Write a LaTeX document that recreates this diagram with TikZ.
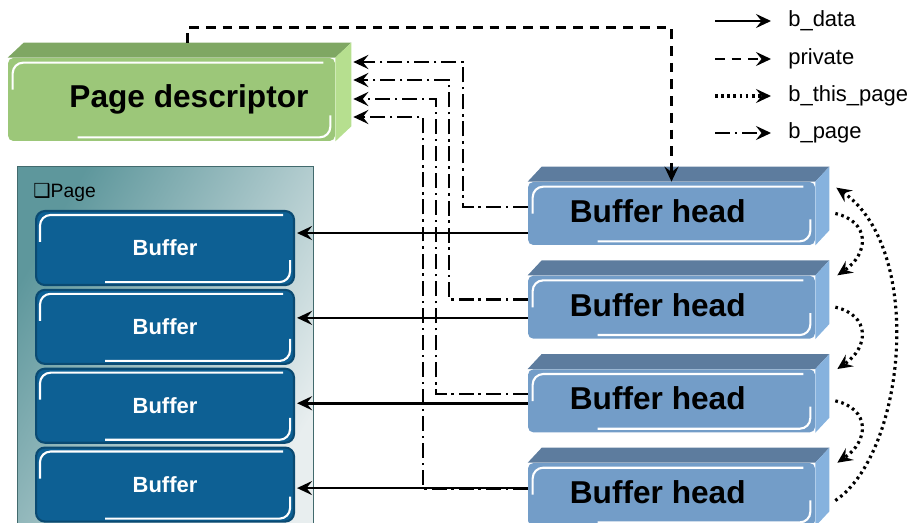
\documentclass[tikz,border=0pt]{standalone}
\usepackage{fontspec}
\setmainfont{Liberation Sans}
\newfontfamily\dingfont{DejaVu Sans}
\usetikzlibrary{arrows.meta,positioning}

\definecolor{pdfront}{HTML}{9CC779}
\definecolor{pdtopc}{HTML}{7FA763}
\definecolor{pdside}{HTML}{B6DF8F}
\definecolor{bhfront}{HTML}{739DC8}
\definecolor{bhtopc}{HTML}{5D7C9E}
\definecolor{bhside}{HTML}{86B2DE}
\definecolor{buffill}{HTML}{0D6094}
\definecolor{bufedge}{HTML}{0A4A72}
\definecolor{pagedark}{HTML}{5E979C}
\definecolor{pagelight}{HTML}{E8EEEF}

% top and side faces of a slab: node, top colour, side colour, dx, dy
\newcommand{\slab}[5]{%
  \fill[#2] (#1.north west) -- ++(#4,-#5) -- ([shift={(#4,-#5)}]#1.north east) -- (#1.north east) -- cycle;
  \fill[#3] (#1.north east) -- ++(#4,-#5) -- ([shift={(#4,-#5)}]#1.south east) -- (#1.south east) -- cycle;
}
% white glossy streaks inside a box
\newcommand{\gloss}[1]{%
  \draw[glossline] ([shift={(5,32)}]#1.north west) -- ([shift={(5,5)}]#1.north west) -- ([shift={(-12,5)}]#1.north east);
  \draw[glossline] ([shift={(-5,-26)}]#1.south east) -- ([shift={(-5,-4)}]#1.south east) -- ([shift={(70,-4)}]#1.south west);
}

\begin{document}
\begin{tikzpicture}[x=0.02cm, y=-0.02cm,
    tip/.style={-{Stealth[length=3mm,width=2.8mm,inset=1.1mm]}},
    bdata/.style={tip, line width=1.5pt},
    private/.style={tip, line width=1.5pt, dash pattern=on 5.5pt off 4pt},
    bthis/.style={tip, line width=1.8pt, dash pattern=on 1.5pt off 2pt},
    bpage/.style={tip, line width=1.5pt, dash pattern=on 8.5pt off 2.8pt on 1.3pt off 2.8pt},
    pagebox/.style={draw=pagedark!70!black, line width=0.5pt, left color=pagedark, right color=pagelight, shading angle=60,
      minimum width=5.92cm, minimum height=7.3cm, anchor=north west, inner sep=0pt},
    bufbox/.style={draw=bufedge, line width=1.2pt, fill=buffill, rounded corners=5pt,
      minimum width=5.16cm, minimum height=1.48cm, text=white, font=\fontsize{12.5}{15}\selectfont\bfseries},
    headbox/.style={fill=bhfront, rounded corners=3pt, minimum width=5.74cm, minimum height=1.26cm,
      font=\fontsize{18}{21}\selectfont\bfseries},
    pdbox/.style={fill=pdfront, rounded corners=3pt, minimum width=6.54cm, minimum height=1.66cm,
      font=\fontsize{18}{21}\selectfont\bfseries},
    legtext/.style={anchor=west, inner sep=0pt, font=\fontsize{12.5}{15}\selectfont},
    glossline/.style={white, line width=1.2pt, rounded corners=6pt}
  ]
    \useasboundingbox (0,0) rectangle (915,523);
    \clip (0,0) rectangle (915,523);

    % Page with its buffers
    \node[pagebox] (page) at (17,166) {};
    \node[anchor=west, inner sep=0pt, font=\fontsize{11}{13}\selectfont] (pagelbl) at (33,192) {{\dingfont ❑}Page};
    \node[bufbox, anchor=north west] (buf1) at (35,210) {Buffer};
    \node[bufbox, below=0.055cm of buf1] (buf2) {Buffer};
    \node[bufbox, below=0.055cm of buf2] (buf3) {Buffer};
    \node[bufbox, below=0.055cm of buf3] (buf4) {Buffer};
    \foreach \b in {buf1,buf2,buf3,buf4} {\gloss{\b}}

    % Page descriptor
    \node[pdbox] (pd) at (171.5,99.5) {\hspace*{0.7cm}Page descriptor};
    \slab{pd}{pdtopc}{pdside}{16}{15}
    \gloss{pd}

    % Buffer heads
    \node[headbox] (bh1) at (671.5,213.5) {\raisebox{3pt}{Buffer head}\hspace*{0.55cm}};
    \node[headbox, below=0.6cm of bh1] (bh2) {\raisebox{3pt}{Buffer head}\hspace*{0.55cm}};
    \node[headbox, below=0.6cm of bh2] (bh3) {\raisebox{3pt}{Buffer head}\hspace*{0.55cm}};
    \node[headbox, below=0.6cm of bh3] (bh4) {\raisebox{3pt}{Buffer head}\hspace*{0.55cm}};
    \foreach \h in {bh1,bh2,bh3,bh4} {\slab{\h}{bhtopc}{bhside}{14}{15}\gloss{\h}}

    % Legend
    \node[legtext] (lgdata) at (788,21) {b\_data};
    \node[legtext] (lgpriv) at (788,59) {private};
    \node[legtext] (lgthis) at (788,96) {b\_this\_page};
    \node[legtext] (lgpage) at (788,133) {b\_page};
    \draw[bdata] ([shift={(-73,0)}]lgdata.west) -- ([shift={(-17,0)}]lgdata.west);
    \draw[private] ([shift={(-73,0)}]lgpriv.west) -- ([shift={(-17,0)}]lgpriv.west);
    \draw[bthis] ([shift={(-73,0)}]lgthis.west) -- ([shift={(-17,0)}]lgthis.west);
    \draw[bpage] ([shift={(-73,0)}]lgpage.west) -- ([shift={(-17,0)}]lgpage.west);

    % b_page: vertical runs and targets on the page descriptor
    \coordinate (k1) at (463,0);
    \coordinate (k2) at (449,0);
    \coordinate (k3) at (436,0);
    \coordinate (k4) at (423,0);
    \coordinate (t1) at ([shift={(18,-37.5)}]pd.east);
    \coordinate (t2) at ([shift={(18,-19.5)}]pd.east);
    \coordinate (t3) at ([shift={(18,-0.5)}]pd.east);
    \coordinate (t4) at ([shift={(18,17.5)}]pd.east);
    \draw[bpage] ([shift={(0,-6.5)}]bh1.west) -| (k1 |- t1) -- (t1);
    \draw[bpage] ([shift={(0,-8)}]bh2.west) -| (k2 |- t2) -- (t2);
    \draw[bpage] ([shift={(0,-7)}]bh3.west) -| (k3 |- t3) -- (t3);
    \draw[bpage] ([shift={(0,-6)}]bh4.west) -| (k4 |- t4) -- (t4);

    % b_data
    \coordinate (d1) at ([shift={(2,-15)}]buf1.east);
    \coordinate (d2) at ([shift={(2,-9)}]buf2.east);
    \coordinate (d3) at ([shift={(2,-2.5)}]buf3.east);
    \coordinate (d4) at ([shift={(2,3.5)}]buf4.east);
    \draw[bdata] (bh1.west |- d1) -- (d1);
    \draw[bdata] (bh2.west |- d2) -- (d2);
    \draw[bdata] (bh3.west |- d3) -- (d3);
    \draw[bdata] (bh4.west |- d4) -- (d4);

    % private
    \coordinate (pdtop) at ([shift={(16,-15)}]pd.north);
    \draw[private] (pdtop) -- ++(0,-15) -| (bh1.north);

    % b_this_page
    \draw[bthis] ([shift={(20,0)}]bh1.east) .. controls +(35,8) and +(32,-22) .. ([shift={(22,0)}]bh2.north east);
    \draw[bthis] ([shift={(20,0)}]bh2.east) .. controls +(35,8) and +(32,-22) .. ([shift={(22,0)}]bh3.north east);
    \draw[bthis] ([shift={(20,0)}]bh3.east) .. controls +(35,8) and +(32,-22) .. ([shift={(22,0)}]bh4.north east);
    \draw[bthis] ([shift={(20,6)}]bh4.east) .. controls +(70,-47) and +(89,62) .. ([shift={(21,6)}]bh1.north east);
\end{tikzpicture}
\end{document}
